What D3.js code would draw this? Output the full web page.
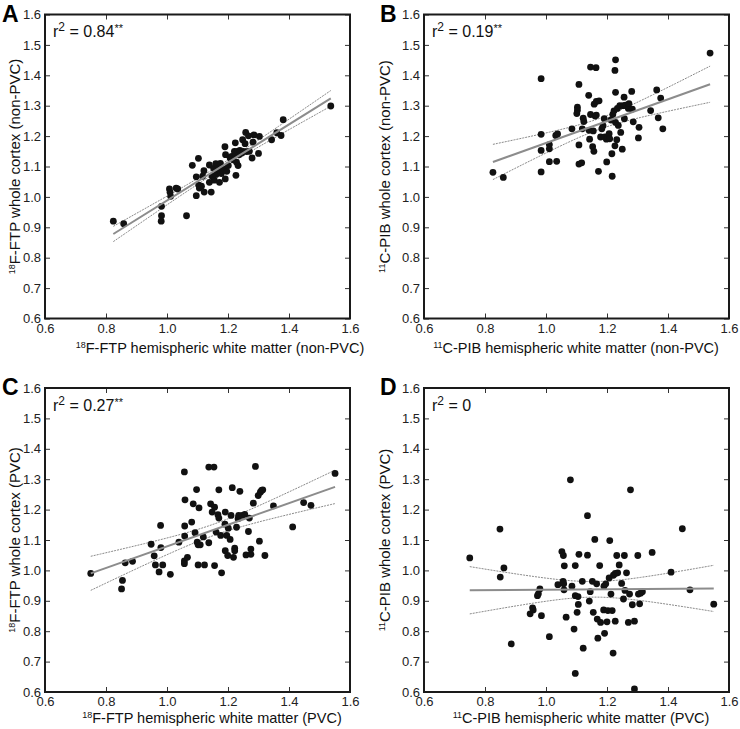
<!DOCTYPE html>
<html><head><meta charset="utf-8">
<script src="https://cdn.jsdelivr.net/npm/d3@7"></script>
<style>
body{margin:0;background:#fff}
text{font-family:Arial,"Liberation Sans",Helvetica,sans-serif}
</style></head>
<body><svg id="c" width="740" height="729"></svg>
<script>
// ---- data ----
const panelLetters = ["A","B","C","D"];
const rsqLabels = ["0.84","0.19","0.27","0"];
const rsqStars = ["**","**","**",""];
const xTitleSup = ["18","11","18","11"];
const xTitles = ["F-FTP hemispheric white matter (non-PVC)","C-PIB hemispheric white matter (non-PVC)","F-FTP hemispheric white matter (PVC)","C-PIB hemispheric white matter (PVC)"];
const yTitles = ["F-FTP whole cortex (non-PVC)","C-PIB whole cortex (non-PVC)","F-FTP whole cortex (PVC)","C-PIB whole cortex (PVC)"];
const yTickVals = [0.6,0.7,0.8,0.9,1.0,1.1,1.2,1.3,1.4,1.5,1.6];
const xTickVals = [0.6,0.8,1.0,1.2,1.4,1.6];

const A_x = [0.824,0.858,0.982,0.982,0.981,1.008,1.010,1.012,1.030,1.035,1.064,1.083,1.096,1.096,1.103,1.104,1.106,1.113,1.117,1.121,1.122,1.139,1.139,1.145,1.148,1.153,1.155,1.160,1.161,1.165,1.172,1.175,1.178,1.183,1.187,1.190,1.191,1.192,1.196,1.201,1.207,1.212,1.217,1.221,1.224,1.225,1.226,1.228,1.231,1.233,1.236,1.239,1.245,1.250,1.248,1.256,1.258,1.261,1.267,1.270,1.279,1.282,1.285,1.303,1.300,1.343,1.360,1.374,1.381,1.537];
const A_y = [0.920,0.912,0.969,0.938,0.920,1.026,1.015,1.002,1.029,1.026,0.938,1.104,1.066,1.004,1.127,1.039,1.029,1.035,1.068,1.086,1.016,1.105,1.048,1.016,1.068,1.094,1.055,1.109,1.074,1.092,1.048,1.110,1.077,1.087,1.092,1.165,1.059,1.139,1.084,1.103,1.128,1.133,1.122,1.150,1.178,1.139,1.071,1.114,1.150,1.103,1.139,1.153,1.144,1.150,1.188,1.175,1.212,1.149,1.201,1.150,1.128,1.180,1.204,1.199,1.143,1.188,1.211,1.202,1.254,1.299];

const B_x = [0.826,0.860,0.984,0.984,0.984,0.984,1.011,1.011,1.011,1.032,1.038,1.035,1.085,1.108,1.103,1.103,1.101,1.108,1.108,1.117,1.119,1.122,1.124,1.140,1.141,1.143,1.146,1.146,1.153,1.157,1.155,1.158,1.161,1.164,1.165,1.165,1.174,1.172,1.179,1.183,1.187,1.191,1.193,1.198,1.199,1.202,1.207,1.209,1.213,1.216,1.217,1.219,1.223,1.226,1.228,1.228,1.228,1.226,1.232,1.234,1.237,1.242,1.245,1.250,1.253,1.256,1.257,1.261,1.270,1.272,1.281,1.283,1.286,1.305,1.303,1.343,1.363,1.368,1.376,1.383,1.538];
const B_y = [1.081,1.064,1.389,1.206,1.153,1.082,1.172,1.158,1.116,1.202,1.207,1.117,1.224,1.370,1.295,1.285,1.274,1.171,1.108,1.112,1.224,1.259,1.248,1.334,1.219,1.190,1.427,1.271,1.165,1.150,1.217,1.305,1.266,1.425,1.314,1.269,1.316,1.084,1.197,1.224,1.234,1.257,1.197,1.190,1.115,1.198,1.208,1.191,1.253,1.142,1.068,1.271,1.283,1.416,1.451,1.344,1.245,1.168,1.188,1.291,1.235,1.300,1.212,1.157,1.300,1.328,1.257,1.302,1.291,1.307,1.347,1.289,1.247,1.229,1.194,1.284,1.352,1.260,1.325,1.224,1.473];

const C_x = [0.750,0.851,0.854,0.863,0.887,0.948,0.958,0.962,0.974,0.979,0.980,0.986,1.011,1.039,1.057,1.058,1.058,1.059,1.057,1.057,1.067,1.081,1.086,1.092,1.097,1.099,1.102,1.105,1.102,1.109,1.119,1.123,1.137,1.137,1.143,1.148,1.154,1.156,1.156,1.161,1.167,1.170,1.170,1.176,1.179,1.191,1.190,1.191,1.196,1.199,1.201,1.207,1.210,1.214,1.218,1.222,1.222,1.228,1.233,1.235,1.239,1.247,1.255,1.259,1.267,1.270,1.275,1.275,1.283,1.290,1.299,1.303,1.306,1.310,1.314,1.321,1.349,1.412,1.448,1.472,1.551];
const C_y = [0.990,0.939,0.967,1.025,1.030,1.086,1.048,1.018,0.995,1.148,1.075,1.018,0.987,1.093,1.324,1.146,1.113,1.232,1.031,1.022,1.043,1.159,1.219,1.124,1.266,1.093,1.018,1.206,1.084,1.084,1.110,1.018,1.091,1.340,1.219,1.192,1.340,1.208,1.016,1.126,1.183,1.265,1.172,1.115,0.992,1.192,1.152,1.065,1.115,1.049,1.139,1.102,1.181,1.272,1.043,1.073,1.065,1.142,1.170,1.181,1.260,1.181,1.184,1.051,1.128,1.172,1.053,1.070,1.221,1.342,1.246,1.096,1.257,1.263,1.265,1.049,1.212,1.143,1.223,1.214,1.319];

const D_x = [0.750,0.849,0.850,0.862,0.886,0.948,0.956,0.958,0.972,0.975,0.980,0.985,1.011,1.039,1.052,1.057,1.056,1.058,1.059,1.060,1.066,1.080,1.085,1.092,1.096,1.096,1.102,1.105,1.106,1.108,1.096,1.119,1.122,1.136,1.136,1.145,1.142,1.152,1.155,1.160,1.166,1.168,1.170,1.176,1.179,1.190,1.192,1.189,1.196,1.200,1.203,1.207,1.209,1.213,1.217,1.220,1.221,1.227,1.227,1.232,1.235,1.240,1.248,1.254,1.257,1.259,1.264,1.270,1.274,1.277,1.283,1.290,1.301,1.303,1.307,1.310,1.316,1.348,1.410,1.447,1.472,1.550,1.290];
const D_y = [1.041,1.136,0.978,1.008,0.758,0.857,0.877,0.870,0.917,0.923,0.939,0.851,0.782,0.953,1.062,1.049,0.964,0.956,0.936,1.015,0.846,1.298,0.948,0.807,1.016,0.917,0.862,0.914,0.888,1.053,0.661,0.964,0.744,1.180,1.050,0.930,0.899,0.964,0.862,1.102,0.956,0.840,0.777,1.016,0.829,0.948,0.793,0.870,0.956,0.831,0.868,0.975,1.098,0.922,0.868,0.728,0.984,0.990,0.833,1.049,0.992,1.018,0.957,0.906,1.049,0.934,0.992,0.829,0.922,1.265,0.887,0.833,1.049,0.922,0.890,0.925,0.930,1.059,0.994,1.137,0.936,0.889,0.610];

const seriesX = [A_x,B_x,C_x,D_x];
const seriesY = [A_y,B_y,C_y,D_y];

// ---- layout ----
const layout = [
  {left:45, top:14.5, letterX:2, xTitleCx:220, xTitleY:353, yTitleX:20},
  {left:424, top:14.5, letterX:380, xTitleCx:576, xTitleY:353, yTitleX:390},
  {left:45, top:388, letterX:2, xTitleCx:212, xTitleY:723, yTitleX:20},
  {left:424, top:388, letterX:380, xTitleCx:581, xTitleY:723, yTitleX:390}
];
const W = 305, H = 304;
const svg = d3.select("#c");

function regress(xs, ys){
  const n = xs.length, mx = d3.mean(xs), my = d3.mean(ys);
  let sxx=0, sxy=0;
  for(let i=0;i<n;i++){ sxx+=(xs[i]-mx)**2; sxy+=(xs[i]-mx)*(ys[i]-my); }
  const b = sxy/sxx, a = my - b*mx;
  let ss=0; for(let i=0;i<n;i++){ ss += (ys[i]-(a+b*xs[i]))**2; }
  const s = Math.sqrt(ss/(n-2)), t = 1.99;
  return {f:x=>a+b*x, ci:x=>t*s*Math.sqrt(1/n+(x-mx)**2/sxx)};
}

panelLetters.forEach((L,i)=>{
  const lo = layout[i];
  const x = d3.scaleLinear().domain([0.6,1.6]).range([lo.left, lo.left+W]);
  const y = d3.scaleLinear().domain([0.6,1.6]).range([lo.top+H, lo.top]);
  const g = svg.append("g");
  const xs = seriesX[i], ys = seriesY[i];

  // regression + CI
  const r = regress(xs, ys);
  const [x0,x1] = d3.extent(xs);
  const grid = d3.range(0,51).map(k=>x0+(x1-x0)*k/50);
  const line = d3.line().x(d=>x(d[0])).y(d=>y(d[1]));
  [1,-1].forEach(sg=>{
    g.append("path").attr("d", line(grid.map(v=>[v, r.f(v)+sg*r.ci(v)])))
      .attr("fill","none").attr("stroke","#8a8a8a").attr("stroke-width",1).attr("stroke-dasharray","2,1");
  });

  // dots
  g.selectAll("circle").data(xs.map((v,k)=>[v, ys[k]])).join("circle")
    .attr("cx",d=>x(d[0])).attr("cy",d=>y(d[1])).attr("r",3.4).attr("fill","#111");

  g.append("path").attr("d", line([[x0, r.f(x0)],[x1, r.f(x1)]]))
    .attr("fill","none").attr("stroke","#8c8c8c").attr("stroke-width",2);

  // axes (inside ticks on all sides)
  const fmt = d3.format(".1f");
  const ax = [
    {a:d3.axisLeft(y).tickValues(yTickVals).tickFormat(fmt), t:`translate(${lo.left},0)`},
    {a:d3.axisRight(y).tickValues(yTickVals).tickFormat(""), t:`translate(${lo.left+W},0)`},
    {a:d3.axisBottom(x).tickValues(xTickVals).tickFormat(fmt), t:`translate(0,${lo.top+H})`},
    {a:d3.axisTop(x).tickValues(xTickVals).tickFormat(""), t:`translate(0,${lo.top})`}
  ];
  ax.forEach((o,k)=>{
    const ag = g.append("g").attr("transform",o.t)
      .call(o.a.tickSizeInner(-5).tickSizeOuter(0).tickPadding(k===2?5:4));
    ag.select(".domain").remove();
    ag.selectAll("line").attr("stroke","#333").attr("stroke-width",1);
    ag.selectAll("text").attr("font-size",13).attr("fill","#222")
      .attr("font-family","Arial, 'Liberation Sans', sans-serif");
  });
  g.append("rect").attr("x",lo.left).attr("y",lo.top).attr("width",W).attr("height",H)
    .attr("fill","none").attr("stroke","#1a1a1a").attr("stroke-width",2);

  // panel letter
  g.append("text").attr("x", lo.letterX).attr("y", lo.top+7)
    .attr("font-size",23).attr("font-weight","bold").attr("fill","#000").text(L);

  // r^2 label
  const rt = g.append("text").attr("x", lo.left+8).attr("y", lo.top+22.5).attr("font-size",16).attr("fill","#111");
  rt.append("tspan").text("r");
  rt.append("tspan").attr("font-size",12).attr("dy",-6).text("2");
  rt.append("tspan").attr("dy",6).text(" = "+rsqLabels[i]);
  if(rsqStars[i]) rt.append("tspan").attr("font-size",11).attr("dy",-5).text(rsqStars[i]);

  // x title
  const xt = g.append("text").attr("x", lo.xTitleCx).attr("y", lo.xTitleY)
    .attr("text-anchor","middle").attr("font-size",14.5).attr("fill","#111");
  xt.append("tspan").attr("font-size",9).attr("dy",-5).text(xTitleSup[i]);
  xt.append("tspan").attr("dy",5).text(xTitles[i]);

  // y title
  const yt = g.append("text")
    .attr("transform",`translate(${lo.yTitleX},${lo.top+H/2}) rotate(-90)`)
    .attr("text-anchor","middle").attr("font-size",15).attr("fill","#111");
  yt.append("tspan").attr("font-size",9).attr("dy",-5).text(xTitleSup[i]);
  yt.append("tspan").attr("dy",5).text(yTitles[i]);
});
</script>
</body></html>
